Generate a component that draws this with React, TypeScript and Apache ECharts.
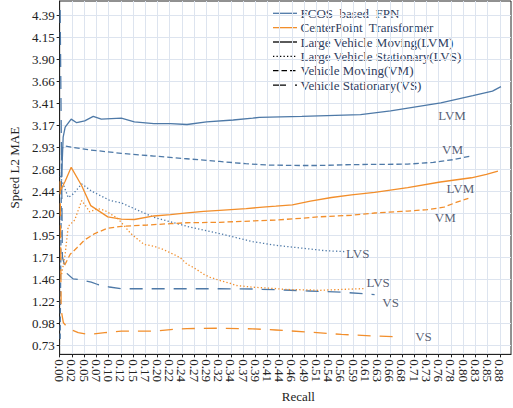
import React, { useEffect, useRef } from "react";
import * as echarts from "echarts";

const BLUE = "#4e79a7";
const ORANGE = "#f28e2b";
const FONT = "'Liberation Serif', 'Times New Roman', serif";
const TEXT = "#222222";
const GRID = "#dde4ef";

// Tick labels (evenly spaced ticks)
const xTickLabels = [
  "0.00", "0.02", "0.05", "0.07", "0.10", "0.12", "0.15", "0.17", "0.20", "0.22",
  "0.24", "0.27", "0.29", "0.32", "0.34", "0.37", "0.39", "0.41", "0.44", "0.46",
  "0.49", "0.51", "0.54", "0.56", "0.59", "0.61", "0.63", "0.66", "0.68", "0.71",
  "0.73", "0.76", "0.78", "0.80", "0.83", "0.85", "0.88",
];
const X_TICK_START = 0;
const X_TICK_STEP = 0.02438;
const yTickLabels = [
  "0.73", "0.98", "1.22", "1.46", "1.71", "1.95", "2.20", "2.44",
  "2.68", "2.93", "3.17", "3.41", "3.66", "3.90", "4.15", "4.39",
];
const Y_TICK_START = 0.7336;
const Y_TICK_STEP = 0.2437;

// FCOS based FPN
const fcosLVM = [
  [0.004, 2.6], [0.007, 3.04], [0.011, 3.15], [0.023, 3.24], [0.034, 3.2], [0.05, 3.22],
  [0.067, 3.27], [0.083, 3.24], [0.123, 3.25], [0.149, 3.21], [0.188, 3.19], [0.221, 3.19],
  [0.254, 3.18], [0.293, 3.21], [0.346, 3.23], [0.385, 3.25], [0.398, 3.26], [0.483, 3.27],
  [0.6, 3.29], [0.66, 3.33], [0.76, 3.42], [0.824, 3.5], [0.863, 3.55], [0.88, 3.6],
];
const fcosLVS = [
  [0.001, 2.61], [0.017, 2.37], [0.027, 2.41], [0.044, 2.52], [0.064, 2.44], [0.099, 2.34],
  [0.123, 2.31], [0.188, 2.15], [0.254, 2.05], [0.319, 1.97], [0.385, 1.88], [0.431, 1.84],
  [0.497, 1.8], [0.529, 1.78], [0.569, 1.77],
];
const fcosVM = [
  [0.001, 0.8], [0.004, 2.915], [0.011, 2.94], [0.057, 2.9], [0.123, 2.86], [0.188, 2.83],
  [0.253, 2.8], [0.319, 2.77], [0.371, 2.745], [0.418, 2.73], [0.483, 2.725], [0.516, 2.725],
  [0.582, 2.735], [0.694, 2.74], [0.745, 2.76], [0.785, 2.79], [0.819, 2.83],
];
const fcosVS = [
  [0.001, 4.45], [0.0055, 1.71], [0.014, 1.53], [0.027, 1.467], [0.044, 1.456], [0.063, 1.43],
  [0.076, 1.405], [0.099, 1.377], [0.123, 1.358], [0.188, 1.358], [0.254, 1.358], [0.319, 1.358],
  [0.385, 1.355], [0.431, 1.347], [0.497, 1.333], [0.562, 1.32], [0.628, 1.293],
];

// CenterPoint Transformer
const cpLVM = [
  [0.001, 2.44], [0.011, 2.55], [0.023, 2.705], [0.044, 2.5], [0.062, 2.28], [0.096, 2.155],
  [0.123, 2.13], [0.149, 2.126], [0.188, 2.165], [0.221, 2.18], [0.254, 2.2], [0.287, 2.216],
  [0.319, 2.227], [0.372, 2.246], [0.405, 2.263], [0.431, 2.274], [0.464, 2.289], [0.5, 2.33],
  [0.542, 2.37], [0.582, 2.4], [0.628, 2.426], [0.694, 2.48], [0.759, 2.542], [0.821, 2.589],
  [0.851, 2.626], [0.874, 2.662],
];
const cpLVS = [
  [0.004, 1.52], [0.011, 1.74], [0.017, 2.05], [0.03, 2.12], [0.044, 2.336], [0.054, 2.26],
  [0.06, 2.21], [0.076, 2.246], [0.09, 2.227], [0.116, 2.137], [0.142, 1.97], [0.168, 1.85],
  [0.188, 1.83], [0.208, 1.79], [0.227, 1.74], [0.241, 1.7], [0.254, 1.63], [0.267, 1.594],
  [0.287, 1.52], [0.3, 1.485], [0.319, 1.45], [0.339, 1.42], [0.352, 1.394], [0.385, 1.375],
  [0.431, 1.36], [0.45, 1.35], [0.497, 1.345], [0.516, 1.34], [0.562, 1.35], [0.608, 1.36],
];
const cpVM = [
  [0.01, 1.62], [0.021, 1.74], [0.034, 1.81], [0.05, 1.9], [0.07, 1.97], [0.096, 2.03],
  [0.123, 2.05], [0.175, 2.065], [0.221, 2.08], [0.254, 2.09], [0.319, 2.095], [0.385, 2.11],
  [0.431, 2.12], [0.483, 2.14], [0.516, 2.155], [0.582, 2.173], [0.628, 2.198], [0.694, 2.22],
  [0.733, 2.235], [0.766, 2.263], [0.792, 2.318], [0.815, 2.361],
];
const cpVS = [
  [0.001, 2.55], [0.003, 1.12], [0.0075, 0.98], [0.017, 0.92], [0.037, 0.87], [0.057, 0.85],
  [0.09, 0.87], [0.123, 0.888], [0.188, 0.888], [0.221, 0.905], [0.254, 0.916], [0.319, 0.92],
  [0.385, 0.913], [0.431, 0.9], [0.497, 0.877], [0.562, 0.851], [0.628, 0.834], [0.667, 0.826],
];

// Curve annotations
const fcosNotes = [
  { name: "LVM", value: [0.7825, 3.278] },
  { name: "VM", value: [0.7835, 2.908] },
  { name: "LVS", value: [0.5945, 1.749] },
  { name: "VS", value: [0.66, 1.209] },
];
const cpNotes = [
  { name: "LVM", value: [0.799, 2.469] },
  { name: "VM", value: [0.769, 2.144] },
  { name: "LVS", value: [0.635, 1.423] },
  { name: "VS", value: [0.7255, 0.826] },
];

const modelNames = ["FCOS  based  FPN", "CenterPoint  Transformer"];
const styleNames = [
  "Large Vehicle Moving(LVM)",
  "Large Vehicle Stationary(LVS)",
  "Vehicle Moving(VM)",
  "Vehicle Stationary(VS)",
];

const DOT = [1.3, 2.2];
const DASH = [5.5, 3];
const LONG = [13, 9];

function lineSeries(name: string, data: number[][], color: string, type: any) {
  return {
    name,
    type: "line",
    data,
    symbol: "none",
    showSymbol: false,
    silent: true,
    xAxisIndex: 0,
    lineStyle: { color, width: 1.3, type },
  };
}

function noteSeries(name: string, data: any[]) {
  return {
    name,
    type: "scatter",
    data,
    symbolSize: 0,
    silent: true,
    xAxisIndex: 0,
    label: {
      show: true,
      position: "inside",
      formatter: "{b}",
      fontFamily: FONT,
      fontSize: 13,
      color: "#2c3550",
    },
  };
}

function buildLegend() {
  const x1 = 273;
  const x2 = 297;
  const tx = 300.5;
  const y0 = 13.3;
  const dy = 14.35;
  const rows = [
    { text: modelNames[0], color: BLUE, dash: null },
    { text: modelNames[1], color: ORANGE, dash: null },
    { text: styleNames[0], color: "#000", dash: null },
    { text: styleNames[1], color: "#000", dash: DOT },
    { text: styleNames[2], color: "#000", dash: DASH },
    { text: styleNames[3], color: "#000", dash: LONG },
  ];
  const children: any[] = [];
  rows.forEach((r, i) => {
    const y = y0 + i * dy;
    children.push({
      type: "line",
      shape: { x1, y1: y, x2, y2: y },
      style: { stroke: r.color, lineWidth: 1.3, lineDash: r.dash || undefined },
      silent: true,
    });
    children.push({
      type: "text",
      x: tx,
      y,
      style: {
        text: r.text,
        fill: "#2f3d5e",
        font: `13px ${FONT}`,
        verticalAlign: "middle",
      },
      silent: true,
    });
  });
  return children;
}

function xAxisPart(values: number[], main: boolean) {
  return {
    type: "value",
    position: "bottom",
    offset: 0,
    min: 0,
    max: 0.9,
    name: main ? "Recall" : "",
    nameLocation: "middle",
    nameGap: 30,
    nameTextStyle: { fontFamily: FONT, fontSize: 13, color: TEXT, padding: [0, 0, 0, 26] },
    axisLine: { show: main, lineStyle: { color: "#222", width: 1 } },
    axisTick: { show: true, length: 3, customValues: values, lineStyle: { color: "#222" } },
    axisLabel: {
      customValues: values,
      showMinLabel: true,
      showMaxLabel: true,
      hideOverlap: false,
      rotate: -90,
      margin: 5,
      fontFamily: FONT,
      fontSize: 13,
      color: TEXT,
      formatter: (v: number) => xTickLabels[Math.round((v - X_TICK_START) / X_TICK_STEP)] ?? "",
    },
    splitLine: { show: true, lineStyle: { color: GRID, width: 1 } },
  };
}

export default function App() {
  const ref = useRef<HTMLDivElement>(null);
  useEffect(() => {
    document.body.style.margin = "0";
    if (!ref.current) return;
    const chart = echarts.init(ref.current, null, { renderer: "svg" });
    const xTicks = xTickLabels.map((_, i) => X_TICK_START + i * X_TICK_STEP);
    const xEven = xTicks.filter((_, i) => i % 2 === 0);
    const xOdd = xTicks.filter((_, i) => i % 2 === 1);
    const yTicks = yTickLabels.map((_, i) => Y_TICK_START + i * Y_TICK_STEP);
    const option: any = {
      animation: false,
      backgroundColor: "#ffffff",
      grid: {
        left: 54,
        right: 2,
        top: 1,
        bottom: 46,
        show: true,
        borderColor: "#222",
        borderWidth: 1,
        backgroundColor: "transparent",
      },
      xAxis: [xAxisPart(xEven, true), xAxisPart(xOdd, false)],
      yAxis: {
        type: "value",
        min: 0.63,
        max: 4.55,
        name: "Speed L2 MAE",
        nameLocation: "middle",
        nameGap: 29,
        nameTextStyle: { fontFamily: FONT, fontSize: 13, color: TEXT, padding: [0, 0, 0, 20] },
        axisLine: { show: true, lineStyle: { color: "#222", width: 1 } },
        axisTick: { show: true, length: 3, customValues: yTicks, lineStyle: { color: "#222" } },
        axisLabel: {
          customValues: yTicks,
          showMinLabel: true,
          showMaxLabel: true,
          margin: 5,
          fontFamily: FONT,
          fontSize: 13,
          color: TEXT,
          formatter: (v: number) => yTickLabels[Math.round((v - Y_TICK_START) / Y_TICK_STEP)] ?? "",
        },
        splitLine: { show: true, lineStyle: { color: GRID, width: 1 } },
      },
      series: [
        lineSeries("FCOS LVM", fcosLVM, BLUE, "solid"),
        lineSeries("FCOS LVS", fcosLVS, BLUE, DOT),
        lineSeries("FCOS VM", fcosVM, BLUE, DASH),
        lineSeries("FCOS VS", fcosVS, BLUE, LONG),
        lineSeries("CenterPoint LVM", cpLVM, ORANGE, "solid"),
        lineSeries("CenterPoint LVS", cpLVS, ORANGE, DOT),
        lineSeries("CenterPoint VM", cpVM, ORANGE, DASH),
        lineSeries("CenterPoint VS", cpVS, ORANGE, LONG),
        noteSeries("FCOS notes", fcosNotes),
        noteSeries("CenterPoint notes", cpNotes),
      ],
      graphic: buildLegend(),
    };
    chart.setOption(option);
    return () => chart.dispose();
  }, []);
  return <div ref={ref} style={{ width: 513, height: 408 }} />;
}
